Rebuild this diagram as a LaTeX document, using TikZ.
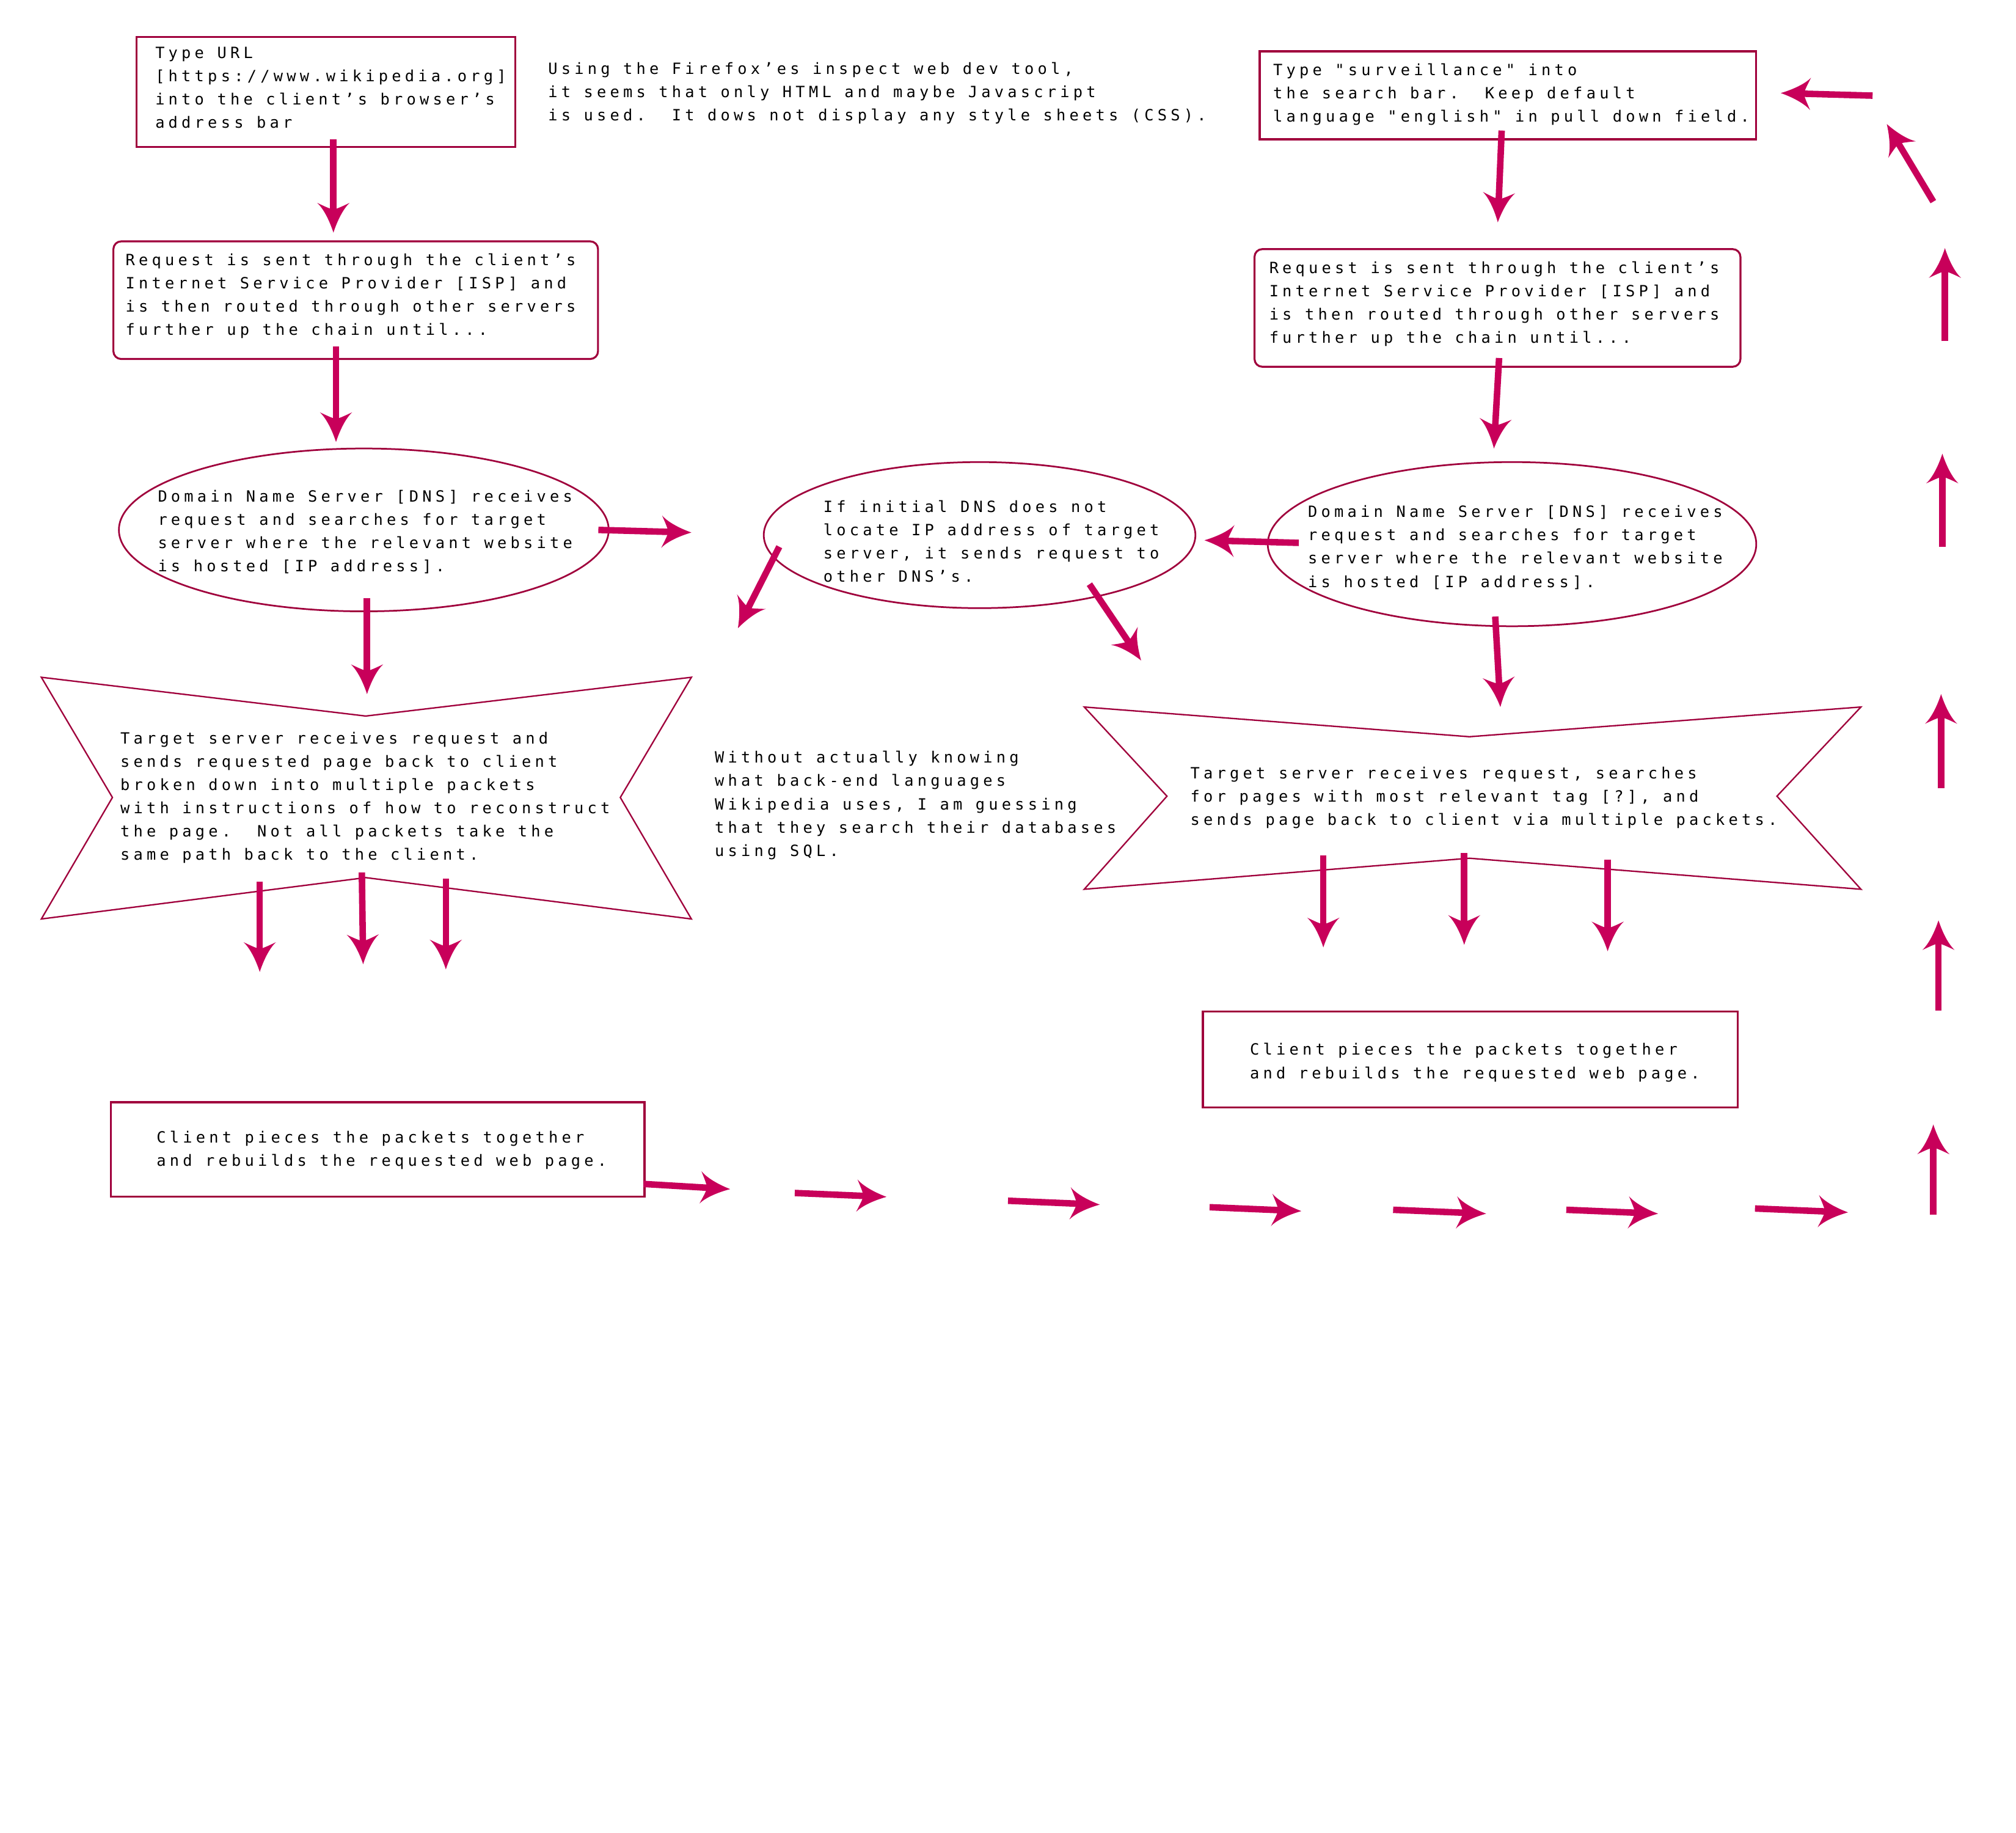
\documentclass[tikz,border=0pt]{standalone}
\usepackage{fontspec}
\newfontfamily\pix[LetterSpace=24.5]{DejaVu Sans Mono}
\usetikzlibrary{arrows.meta,shapes.geometric}
\definecolor{arrc}{HTML}{C8005A}
\definecolor{edgec}{HTML}{A0003C}
\pgfdeclarearrow{
  name = Swept,
  parameters = {\the\pgfarrowlength,\the\pgfarrowwidth},
  setup code = {
    \pgfarrowssettipend{0pt}
    \pgfarrowssetlineend{-.7\pgfarrowlength}
    \pgfarrowssetbackend{-\pgfarrowlength}
    \pgfarrowshullpoint{0pt}{0pt}
    \pgfarrowsupperhullpoint{-\pgfarrowlength}{.5\pgfarrowwidth}
    \pgfarrowssavethe\pgfarrowlength
    \pgfarrowssavethe\pgfarrowwidth
  },
  drawing code = {
    \pgfpathmoveto{\pgfqpoint{0pt}{0pt}}
    \pgfpathcurveto{\pgfpoint{-.4\pgfarrowlength}{.12\pgfarrowwidth}}{\pgfpoint{-.8\pgfarrowlength}{.3\pgfarrowwidth}}{\pgfpoint{-\pgfarrowlength}{.5\pgfarrowwidth}}
    \pgfpathcurveto{\pgfpoint{-.9\pgfarrowlength}{.3\pgfarrowwidth}}{\pgfpoint{-.8\pgfarrowlength}{.12\pgfarrowwidth}}{\pgfpoint{-.78\pgfarrowlength}{0pt}}
    \pgfpathcurveto{\pgfpoint{-.8\pgfarrowlength}{-.12\pgfarrowwidth}}{\pgfpoint{-.9\pgfarrowlength}{-.3\pgfarrowwidth}}{\pgfpoint{-\pgfarrowlength}{-.5\pgfarrowwidth}}
    \pgfpathcurveto{\pgfpoint{-.8\pgfarrowlength}{-.3\pgfarrowwidth}}{\pgfpoint{-.4\pgfarrowlength}{-.12\pgfarrowwidth}}{\pgfqpoint{0pt}{0pt}}
    \pgfpathclose
    \pgfusepathqfill
  },
  defaults = {length=23pt, width=25pt}
}
\begin{document}
\begin{tikzpicture}[x=1pt,y=-1pt,
  txt/.style={anchor=north west, inner sep=0pt, align=left, font=\pix\fontsize{12}{18}\selectfont, text=black},
  boxnode/.style={draw=edgec, line width=1.5pt, anchor=north west, inner sep=0pt},
  ellnode/.style={draw=edgec, line width=1.3pt, ellipse, inner sep=0pt},
  starline/.style={draw=edgec, line width=1.1pt, line join=miter},
  flowarrow/.style={draw=arrc, line width=5pt, -{Swept[length=23pt,width=25pt]}}]
\fill[white] (0,0) rectangle (1560,1418);
\useasboundingbox (0,0) rectangle (1560,1418);

% ---------- left column ----------
\node[boxnode, minimum width=293pt, minimum height=85pt] (A) at (105,28) {};
\node[txt] (At) at (120,36) {Type URL\\{[}https://www.wikipedia.org{]}\\into the client’s browser’s\\address bar};

\node[txt] (N1) at (424,48) {Using the Firefox’es inspect web dev tool,\\it seems that only HTML and maybe Javascript\\is used.\ \ It dows not display any style sheets (CSS).};

\node[boxnode, rounded corners=6pt, minimum width=375pt, minimum height=91pt] (B) at (87,186) {};
\node[txt] (Bt) at (97,196) {Request is sent through the client’s\\Internet Service Provider [ISP] and\\is then routed through other servers\\further up the chain until...};

\node[ellnode, minimum width=379pt, minimum height=126pt] (C) at (281.5,410) {};
\node[txt] (Ct) at (122,379) {Domain Name Server [DNS] receives\\request and searches for target\\server where the relevant website\\is hosted [IP address].};

\path[starline] (32,524) -- (283,554) -- (535,524) -- (480,617) -- (535,711) -- (283,679) -- (32,711) -- (87,617) -- cycle;
\node[txt] (Dt) at (93,566) {Target server receives request and\\sends requested page back to client\\broken down into multiple packets\\with instructions of how to reconstruct\\the page.\ \ Not all packets take the\\same path back to the client.};

\node[boxnode, minimum width=413pt, minimum height=73pt] (K) at (85,852) {};
\node[txt] (Kt) at (121,875) {Client pieces the packets together\\and rebuilds the requested web page.};

% ---------- middle ----------
\node[ellnode, minimum width=334pt, minimum height=113pt] (E) at (758,414) {};
\node[txt] (Et) at (637,387) {If initial DNS does not\\locate IP address of target\\server, it sends request to\\other DNS’s.};

\node[txt] (N2) at (553,581) {Without actually knowing\\what back-end languages\\Wikipedia uses, I am guessing\\that they search their databases\\using SQL.};

% ---------- right column ----------
\node[boxnode, minimum width=384pt, minimum height=68pt] (G) at (974,39) {};
\node[txt] (Gt) at (985,49) {Type "surveillance" into\\the search bar.\ \ Keep default\\language "english" in pull down field.};

\node[boxnode, rounded corners=6pt, minimum width=376pt, minimum height=91pt] (H) at (970,192) {};
\node[txt] (Ht) at (982,202) {Request is sent through the client’s\\Internet Service Provider [ISP] and\\is then routed through other servers\\further up the chain until...};

\node[ellnode, minimum width=378pt, minimum height=127pt] (F) at (1170,421) {};
\node[txt] (Ft) at (1012,391) {Domain Name Server [DNS] receives\\request and searches for target\\server where the relevant website\\is hosted [IP address].};

\path[starline] (839,547) -- (1137,570) -- (1440,547) -- (1375,616) -- (1440,688) -- (1137,664) -- (839,688) -- (903,616) -- cycle;
\node[txt] (It) at (921,593) {Target server receives request, searches\\for pages with most relevant tag [?], and\\sends page back to client via multiple packets.};

\node[boxnode, minimum width=414pt, minimum height=74pt] (J) at (930,782) {};
\node[txt] (Jt) at (967,807) {Client pieces the packets together\\and rebuilds the requested web page.};

% ---------- arrow end points ----------
\coordinate (a1s) at (258,108);  \coordinate (a1e) at (258,180);
\coordinate (a2s) at (260,268);  \coordinate (a2e) at (260,342);
\coordinate (a3s) at (284,463);  \coordinate (a3e) at (284,537);
\coordinate (a4s) at (463,410);  \coordinate (a4e) at (535,412);
\coordinate (a5s) at (1005,420); \coordinate (a5e) at (932,418);
\coordinate (a6s) at (603,423);  \coordinate (a6e) at (571,486);
\coordinate (a7s) at (843,452);  \coordinate (a7e) at (883,511);
\coordinate (a8s) at (1162,101); \coordinate (a8e) at (1159,172);
\coordinate (a9s) at (1160,277); \coordinate (a9e) at (1156,347);
\coordinate (a10s) at (1157,477); \coordinate (a10e) at (1161,547);
\coordinate (d1s) at (201,682); \coordinate (d1e) at (201,752);
\coordinate (d2s) at (280,675); \coordinate (d2e) at (281,746);
\coordinate (d3s) at (345,680); \coordinate (d3e) at (345,750);
\coordinate (i1s) at (1024,662); \coordinate (i1e) at (1024,733);
\coordinate (i2s) at (1133,660); \coordinate (i2e) at (1133,731);
\coordinate (i3s) at (1244,665); \coordinate (i3e) at (1244,736);
\coordinate (b1s) at (498,916);  \coordinate (b1e) at (565,920);
\coordinate (b2s) at (615,923);  \coordinate (b2e) at (686,926);
\coordinate (b3s) at (780,929);  \coordinate (b3e) at (851,932);
\coordinate (b4s) at (936,934);  \coordinate (b4e) at (1007,937);
\coordinate (b5s) at (1078,936); \coordinate (b5e) at (1150,939);
\coordinate (b6s) at (1212,936); \coordinate (b6e) at (1283,939);
\coordinate (b7s) at (1358,935); \coordinate (b7e) at (1430,938);
\coordinate (v1s) at (1496,940); \coordinate (v1e) at (1496,870);
\coordinate (v2s) at (1500,782); \coordinate (v2e) at (1500,712);
\coordinate (v3s) at (1502,610); \coordinate (v3e) at (1502,537);
\coordinate (v4s) at (1503,423); \coordinate (v4e) at (1503,351);
\coordinate (v5s) at (1505,264); \coordinate (v5e) at (1505,192);
\coordinate (v6s) at (1496,156); \coordinate (v6e) at (1460,96);
\coordinate (v7s) at (1449,74);  \coordinate (v7e) at (1378,72);

\foreach \s/\e in {a1s/a1e,a2s/a2e,a3s/a3e,a4s/a4e,a5s/a5e,a6s/a6e,a7s/a7e,a8s/a8e,a9s/a9e,a10s/a10e,
  d1s/d1e,d2s/d2e,d3s/d3e,i1s/i1e,i2s/i2e,i3s/i3e,
  b1s/b1e,b2s/b2e,b3s/b3e,b4s/b4e,b5s/b5e,b6s/b6e,b7s/b7e,
  v1s/v1e,v2s/v2e,v3s/v3e,v4s/v4e,v5s/v5e,v6s/v6e,v7s/v7e}
  \draw[flowarrow] (\s) -- (\e);
\end{tikzpicture}
\end{document}
